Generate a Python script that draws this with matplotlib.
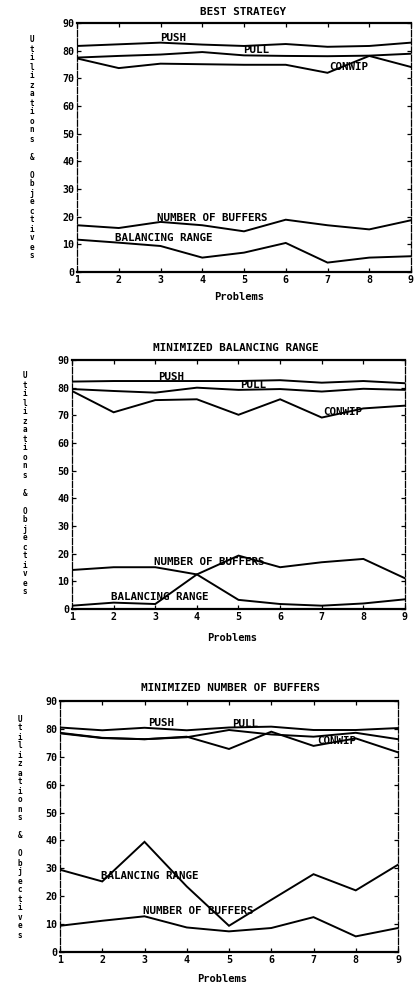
import matplotlib
matplotlib.use("Agg")
import matplotlib.pyplot as plt

problems = [1, 2, 3, 4, 5, 6, 7, 8, 9]
titles = ["BEST STRATEGY", "MINIMIZED BALANCING RANGE", "MINIMIZED NUMBER OF BUFFERS"]
yticks = [0, 10, 20, 30, 40, 50, 60, 70, 80, 90]

# Panel 1: best strategy
best_push = [81.7, 82.3, 82.9, 82.2, 81.7, 82.4, 81.4, 81.7, 82.9]
best_pull = [77.5, 78.1, 78.6, 79.5, 78.3, 78.1, 78.0, 78.2, 78.9]
best_conwip = [77.2, 73.7, 75.3, 75.1, 74.9, 74.9, 72.0, 78.1, 74.1]
best_buffers = [16.9, 15.9, 18.1, 16.9, 14.7, 18.9, 16.9, 15.4, 18.7]
best_balancing = [11.7, 10.6, 9.4, 5.2, 7.0, 10.5, 3.4, 5.2, 5.7]

# Panel 2: minimized balancing range
mbr_push = [82.2, 82.4, 82.4, 82.4, 82.4, 82.7, 81.8, 82.4, 81.6]
mbr_pull = [79.5, 78.8, 78.2, 80.0, 79.2, 79.5, 78.6, 79.6, 79.2]
mbr_conwip = [78.8, 71.1, 75.5, 75.8, 70.2, 75.8, 69.2, 72.5, 73.5]
mbr_buffers = [14.1, 15.1, 15.1, 12.5, 19.3, 15.1, 16.9, 18.1, 11.1]
mbr_balancing = [1.2, 2.3, 1.8, 12.5, 3.3, 1.8, 1.2, 2.0, 3.5]

# Panel 3: minimized number of buffers
mnb_push = [80.5, 79.5, 80.4, 79.5, 80.5, 80.8, 79.6, 79.6, 80.3]
mnb_pull = [78.6, 76.8, 76.3, 77.0, 79.6, 78.0, 77.2, 78.6, 76.3]
mnb_conwip = [78.4, 76.7, 76.3, 77.2, 72.8, 79.0, 73.9, 76.6, 71.6]
mnb_balancing = [29.5, 25.3, 39.5, 23.5, 9.4, 18.7, 27.9, 22.1, 31.3]
mnb_buffers = [9.4, 11.2, 12.8, 8.8, 7.4, 8.6, 12.5, 5.6, 8.6]

panels = [
    dict(series=[best_push, best_pull, best_conwip, best_buffers, best_balancing],
         labels=[("PUSH", 3.3, 84.6), ("PULL", 5.3, 80.1), ("CONWIP", 7.5, 74.1),
                 ("NUMBER OF BUFFERS", 4.25, 19.5), ("BALANCING RANGE", 3.07, 12.4)]),
    dict(series=[mbr_push, mbr_pull, mbr_conwip, mbr_buffers, mbr_balancing],
         labels=[("PUSH", 3.37, 83.7), ("PULL", 5.35, 81.1), ("CONWIP", 7.5, 71.1),
                 ("NUMBER OF BUFFERS", 4.29, 17.1), ("BALANCING RANGE", 3.1, 4.2)]),
    dict(series=[mnb_push, mnb_pull, mnb_conwip, mnb_balancing, mnb_buffers],
         labels=[("PUSH", 3.4, 82.2), ("PULL", 5.38, 81.6), ("CONWIP", 7.55, 75.7),
                 ("BALANCING RANGE", 3.13, 27.1), ("NUMBER OF BUFFERS", 4.27, 14.8)]),
]

W, H = 420, 990
# axes rectangles in pixels: left, right, top, bottom
rects = [(77, 411, 23, 272), (72, 405, 360, 609), (60, 398, 701, 952)]
title_pos = [(243, 12), (236, 348), (230, 688)]
xlabel_pos = [(239, 297), (232, 638), (222, 979)]
ylabel_pos = [(32, 148), (25, 484), (20, 827)]

mono = "DejaVu Sans Mono"
fig = plt.figure(figsize=(4.2, 9.9), dpi=100)
fig.patch.set_facecolor("white")

ylabel_text = "\n".join(list("Utilizations & Objectives"))

for i, p in enumerate(panels):
    l, r, t, b = rects[i]
    ax = fig.add_axes([l / W, 1 - b / H, (r - l) / W, (b - t) / H])
    for s in p["series"]:
        ax.plot(problems, s, color="black", lw=1.4, solid_joinstyle="miter")
    for txt, x, y in p["labels"]:
        ax.text(x, y, txt, ha="center", va="center", fontsize=7.8, family=mono,
                fontweight="bold", color="black")
    ax.set_xlim(1, 9)
    ax.set_ylim(0, 90)
    ax.set_xticks(problems)
    ax.set_yticks(yticks)
    ax.tick_params(direction="in", length=3, width=0.9, top=True, right=True,
                   labelsize=7.2, pad=2, colors="black")
    for lab in ax.get_xticklabels() + ax.get_yticklabels():
        lab.set_family(mono)
        lab.set_fontweight("bold")
    for side in ["top", "bottom"]:
        ax.spines[side].set_linewidth(1.6)
    for side in ["left", "right"]:
        ax.spines[side].set_linewidth(0.9)
        ax.spines[side].set_linestyle((0, (5, 1.5)))
    tx, ty = title_pos[i]
    fig.text(tx / W, 1 - ty / H, titles[i], ha="center", va="center", fontsize=7.9,
             family=mono, fontweight="bold")
    xx, xy = xlabel_pos[i]
    fig.text(xx / W, 1 - xy / H, "Problems", ha="center", va="center", fontsize=7.5,
             family=mono, fontweight="bold")
    yx, yy = ylabel_pos[i]
    fig.text(yx / W, 1 - yy / H, ylabel_text, ha="center", va="center", fontsize=5.5,
             family=mono, fontweight="bold", linespacing=1.0)

fig.savefig("out.png", dpi=100, facecolor="white")
